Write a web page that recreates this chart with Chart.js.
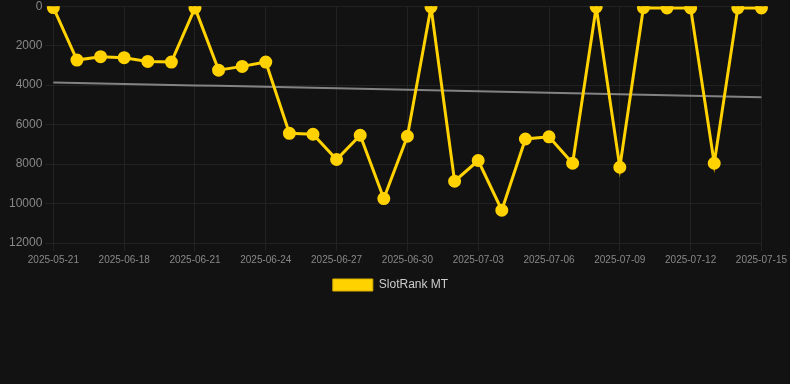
<!DOCTYPE html>
<html>
<head>
<meta charset="utf-8">
<script src="https://cdn.jsdelivr.net/npm/chart.js@4"></script>
<style>
  html, body { margin: 0; padding: 0; background: #121212; overflow: hidden; }
  #wrap { position: relative; width: 790px; height: 305px; margin-top: -4px; }
</style>
</head>
<body>
<div id="wrap"><canvas id="c"></canvas></div>
<script>
const categories = [
  '2025-05-21','2025-06-16','2025-06-17','2025-06-18','2025-06-19','2025-06-20',
  '2025-06-21','2025-06-22','2025-06-23','2025-06-24','2025-06-25','2025-06-26',
  '2025-06-27','2025-06-28','2025-06-29','2025-06-30','2025-07-01','2025-07-02',
  '2025-07-03','2025-07-04','2025-07-05','2025-07-06','2025-07-07','2025-07-08',
  '2025-07-09','2025-07-10','2025-07-11','2025-07-12','2025-07-13','2025-07-14',
  '2025-07-15'
];
const rankValues = [
  70, 2730, 2560, 2610, 2800, 2830,
  85, 3240, 3050, 2830, 6440, 6490,
  7770, 6540, 9750, 6590, 40, 8870,
  7820, 10340, 6730, 6620, 7960, 40,
  8160, 75, 85, 85, 7960, 85,
  85
];
const yTicks = [0, 2000, 4000, 6000, 8000, 10000, 12000];
const seriesName = 'SlotRank MT';

// least-squares trend line from the data
const n = rankValues.length;
const mx = (n - 1) / 2;
const my = rankValues.reduce((a, b) => a + b, 0) / n;
let sxy = 0, sxx = 0;
rankValues.forEach((v, i) => { sxy += (i - mx) * (v - my); sxx += (i - mx) * (i - mx); });
const slope = sxy / sxx;
const trend = rankValues.map((v, i) => my + slope * (i - mx));

Chart.defaults.font.family = '"Liberation Sans", Arial, Helvetica, sans-serif';

new Chart(document.getElementById('c'), {
  type: 'line',
  data: {
    labels: categories,
    datasets: [
      {
        label: seriesName,
        data: rankValues,
        borderColor: '#FFD200',
        backgroundColor: '#FFD200',
        borderWidth: 3,
        pointRadius: 5,
        pointHoverRadius: 5,
        pointBackgroundColor: '#FFD200',
        pointBorderColor: '#FFD200',
        tension: 0,
        order: 1
      },
      {
        label: 'trend',
        data: trend,
        borderColor: 'rgba(150,150,150,0.85)',
        borderWidth: 2,
        pointRadius: 0,
        fill: false,
        order: 2
      }
    ]
  },
  options: {
    responsive: true,
    maintainAspectRatio: false,
    animation: false,
    layout: { padding: { left: 6, right: 15, top: 0, bottom: 0 } },
    plugins: {
      legend: {
        position: 'bottom',
        labels: {
          color: '#cccccc',
          font: { size: 12 },
          boxWidth: 40,
          boxHeight: 12,
          filter: (item) => item.text === seriesName,
          generateLabels: (chart) => Chart.defaults.plugins.legend.labels.generateLabels(chart)
            .map(it => Object.assign(it, { lineWidth: 1, strokeStyle: '#D9B000' }))
        }
      },
      tooltip: { enabled: false }
    },
    scales: {
      x: {
        grid: { color: '#222222', drawTicks: true, tickLength: 8 },
        border: { color: '#222222' },
        ticks: {
          color: '#888888',
          font: { size: 10 },
          maxRotation: 0,
          autoSkip: false,
          callback: function (val, idx) { return idx % 3 === 0 ? this.getLabelForValue(val) : null; }
        }
      },
      y: {
        reverse: true,
        min: yTicks[0],
        max: yTicks[yTicks.length - 1],
        grid: { color: '#222222' },
        border: { color: '#222222' },
        afterBuildTicks: (axis) => { axis.ticks = yTicks.map(v => ({ value: v })); },
        ticks: {
          color: '#888888',
          font: { size: 12 },
          callback: (v) => String(v)
        }
      }
    }
  }
});
</script>
</body>
</html>
